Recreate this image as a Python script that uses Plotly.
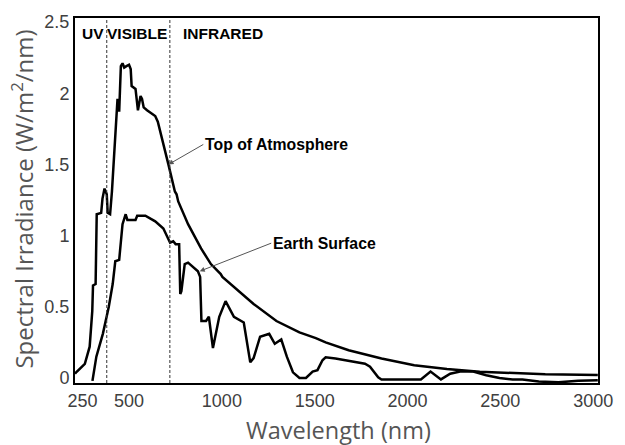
import plotly.graph_objects as go

# Top of Atmosphere spectrum (nm, W/m^2/nm)
toa_wl = [209, 218, 262, 288, 302, 306, 320, 324, 326, 350, 357, 368, 380, 385, 398, 408,
          430, 438, 447, 451, 456, 465, 474, 486, 500, 509, 514, 535, 544, 548, 562, 570,
          579, 597, 641, 655, 712, 747, 756, 765, 818, 888, 941, 994, 1003, 1065, 1171,
          1294, 1418, 1506, 1559, 1683, 1860, 2036, 2212, 2389, 2566, 2742, 3025]
toa_irr = [0.03, 0.044, 0.10, 0.22, 0.47, 0.65, 0.66, 0.87, 1.15, 1.16, 1.26, 1.33, 1.29, 1.16, 1.15, 1.31,
           1.82, 1.96, 1.87, 1.98, 2.19, 2.21, 2.18, 2.19, 2.20, 2.17, 2.05, 2.03, 1.94, 1.88, 1.98, 1.96,
           1.90, 1.88, 1.84, 1.80, 1.50, 1.31, 1.29, 1.24, 1.08, 0.91, 0.80, 0.73, 0.71, 0.64, 0.52,
           0.40, 0.32, 0.28, 0.25, 0.195, 0.137, 0.09, 0.063, 0.044, 0.033, 0.026, 0.021]

# Earth surface spectrum
es_wl = [303, 324, 359, 391, 412, 426, 447, 465, 482, 491, 535, 544, 588, 641, 685, 712,
         721, 738, 751, 770, 776, 782, 800, 818, 871, 883, 890, 915, 930, 952, 986, 1020,
         1047, 1065, 1118, 1153, 1171, 1206, 1255, 1285, 1320, 1350, 1383, 1418, 1453, 1489,
         1515, 1542, 1559, 1612, 1771, 1798, 1842, 1860, 2072, 2124, 2180, 2230, 2283, 2354,
         2424, 2495, 2566, 2619, 2707, 2813, 2919, 3025]
es_irr = [-0.02, 0.15, 0.31, 0.50, 0.66, 0.82, 0.83, 1.08, 1.15, 1.11, 1.11, 1.14, 1.14, 1.10, 1.05, 0.98,
          0.95, 0.96, 0.94, 0.94, 0.59, 0.61, 0.80, 0.81, 0.75, 0.71, 0.40, 0.40, 0.43, 0.21, 0.43, 0.54,
          0.47, 0.43, 0.39, 0.11, 0.14, 0.29, 0.31, 0.24, 0.27, 0.15, 0.04, 0.0, 0.0, 0.045,
          0.055, 0.125, 0.145, 0.137, 0.10, 0.08, 0.005, -0.01, -0.01, 0.045, -0.01, 0.03, 0.045, 0.045,
          0.02, 0.0, -0.01, -0.01, -0.025, -0.03, -0.02, -0.015]

x_ticks = [250, 500, 1000, 1500, 2000, 2500, 3000]
y_ticks = [0, 0.5, 1, 1.5, 2, 2.5]
y_ticktext = ["0", "0.5", "1", "1.5", "2", "2.5"]
region_bounds = [380, 720]
region_labels = ["UV", "VISIBLE", "INFRARED"]
region_label_x = [304, 545, 1008]

fig = go.Figure()
fig.add_trace(go.Scatter(x=toa_wl, y=toa_irr, mode="lines",
                         line=dict(color="black", width=2.5), showlegend=False))
fig.add_trace(go.Scatter(x=es_wl, y=es_irr, mode="lines",
                         line=dict(color="black", width=2.5), showlegend=False))

for b in region_bounds:
    fig.add_shape(type="line", x0=b, x1=b, y0=0, y1=1, xref="x", yref="paper",
                  line=dict(color="#333", width=1, dash="3px,2px"))

for lab, lx in zip(region_labels, region_label_x):
    fig.add_annotation(x=lx, y=2.42, text="<b>%s</b>" % lab, showarrow=False,
                       font=dict(family="Liberation Sans", size=15.5, color="black"))

fig.add_annotation(x=713, y=1.50, ax=900, ay=1.64, axref="x", ayref="y",
                   xanchor="left", yanchor="middle",
                   text="<b>Top of Atmosphere</b>", showarrow=True,
                   arrowhead=2, arrowsize=1, arrowwidth=1, arrowcolor="#555",
                   font=dict(family="Liberation Sans", size=15.8, color="black"))
fig.add_annotation(x=881, y=0.75, ax=1266, ay=0.947, axref="x", ayref="y",
                   xanchor="left", yanchor="middle",
                   text="<b>Earth Surface</b>", showarrow=True,
                   arrowhead=2, arrowsize=1, arrowwidth=1, arrowcolor="#555",
                   font=dict(family="Liberation Sans", size=15.8, color="black"))

fig.add_annotation(x=0.504, y=-0.128, xref="paper", yref="paper",
                   text="Wavelength (nm)", showarrow=False, yanchor="middle",
                   font=dict(family="Open Sans", size=23.5, color="#555"))
fig.add_annotation(x=-0.0996, y=0.505, xref="paper", yref="paper", textangle=-90,
                   text="Spectral Irradiance (W/m<sup>2</sup>/nm)", showarrow=False,
                   xanchor="center", yanchor="middle",
                   font=dict(family="Open Sans", size=24, color="#555"))

fig.update_layout(
    width=625, height=445,
    margin=dict(l=75, r=18, t=15, b=62),
    plot_bgcolor="white", paper_bgcolor="white",
    xaxis=dict(range=[209, 3026], tickvals=x_ticks, showgrid=False, zeroline=False,
               showline=True, linecolor="black", linewidth=2, mirror=True, ticks="",
               tickfont=dict(family="Liberation Sans", size=18, color="#404040")),
    yaxis=dict(range=[-0.035, 2.528], tickvals=y_ticks, ticktext=y_ticktext, showgrid=False,
               zeroline=False, showline=True, linecolor="black", linewidth=2, mirror=True,
               ticks="", tickfont=dict(family="Liberation Sans", size=18, color="#404040")),
)

fig.write_html("out.html")
